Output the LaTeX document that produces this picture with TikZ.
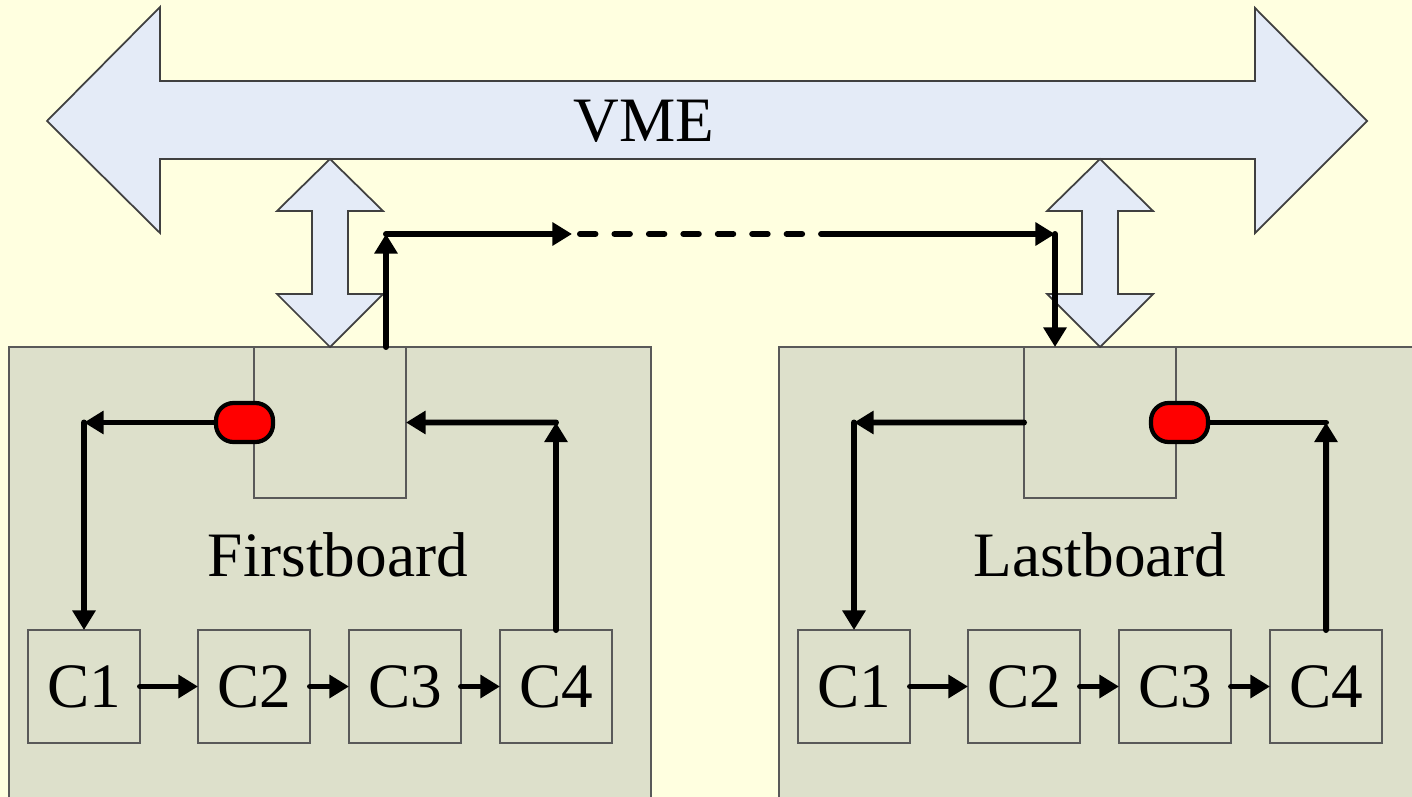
\documentclass[tikz,border=0pt]{standalone}
\usepackage{fontspec}
\setmainfont{Liberation Serif}
\usetikzlibrary{positioning,arrows.meta}
\definecolor{fondo}{HTML}{FFFFE0}
\definecolor{placa}{HTML}{DDE0CB}
\definecolor{bus}{HTML}{E4EBF7}

\begin{document}
\begin{tikzpicture}[
        board/.style={
            rectangle, 
            draw=black!65, 
            line width=0.5pt, 
            fill=placa, 
            anchor=north west, 
            minimum width=6.42cm, 
            minimum height=4.8cm, 
            inner sep=0pt, 
            outer sep=0pt
        },
        ctrl/.style={
            rectangle, 
            draw=black!65, 
            line width=0.5pt, 
            fill=placa, 
            anchor=north west, 
            minimum width=1.52cm, 
            minimum height=1.51cm, 
            inner sep=0pt, 
            outer sep=0pt
        },
        chip/.style={
            rectangle, 
            draw=black!65, 
            line width=0.5pt, 
            fill=placa, 
            minimum width=1.12cm, 
            minimum height=1.13cm, 
            inner sep=0pt, 
            outer sep=0pt, 
            font=\fontsize{18}{22}\selectfont
        },
        pill/.style={
            rectangle, 
            rounded corners=5pt, 
            draw=black, 
            line width=1.2pt, 
            fill=red, 
            minimum width=0.57cm, 
            minimum height=0.39cm, 
            inner sep=0pt
        },
        title/.style={font=\fontsize{18}{22}\selectfont, inner sep=0pt},
        busarrow/.style={draw=black!75, line width=0.5pt, fill=bus},
        arrow/.style={-{Triangle[length=5.6pt,width=6.4pt]}, line width=1.7pt, line cap=round},
        link/.style={line width=1.7pt, line cap=round}
    ]
    \clip (0,0) rectangle (14.12,-7.97);
    \fill[fondo] (0,0) rectangle (14.12,-7.97);

    % Placas
    \node[board] (boardA) at (0.09,-3.47) {};
    \node[board, minimum width=6.5cm] (boardB) at (7.79,-3.47) {};
    \node[ctrl] (ctrlA) at (2.54,-3.47) {};
    \node[ctrl] (ctrlB) at (10.24,-3.47) {};
    \node[pill] (pillA) at (2.445,-4.225) {};
    \node[pill] (pillB) at (11.795,-4.225) {};

    \node[chip] (C1a) at (0.84,-6.865) {C1};
    \node[chip, right=0.58cm of C1a] (C2a) {C2};
    \node[chip, right=0.39cm of C2a] (C3a) {C3};
    \node[chip, right=0.39cm of C3a] (C4a) {C4};
    \node[chip] (C1b) at (8.54,-6.865) {C1};
    \node[chip, right=0.58cm of C1b] (C2b) {C2};
    \node[chip, right=0.39cm of C2b] (C3b) {C3};
    \node[chip, right=0.39cm of C3b] (C4b) {C4};

    \node[title] (first) at (3.38,-5.55) {Firstboard};
    \node[title] (last) at (11.00,-5.55) {Lastboard};

    % Bus VME
    \draw[busarrow] (0.47,-1.21) -- (1.60,-0.07) -- (1.60,-0.81) -- (12.55,-0.81) -- (12.55,-0.08)
        -- (13.67,-1.21) -- (12.55,-2.33) -- (12.55,-1.59) -- (1.60,-1.59) -- (1.60,-2.33) -- cycle;
    \draw[busarrow] (3.30,-1.59) -- (3.83,-2.11) -- (3.48,-2.11) -- (3.48,-2.94) -- (3.83,-2.94)
        -- (3.30,-3.47) -- (2.77,-2.94) -- (3.12,-2.94) -- (3.12,-2.11) -- (2.77,-2.11) -- cycle;
    \draw[busarrow] (11.00,-1.59) -- (11.53,-2.11) -- (11.18,-2.11) -- (11.18,-2.94) -- (11.53,-2.94)
        -- (11.00,-3.47) -- (10.47,-2.94) -- (10.82,-2.94) -- (10.82,-2.11) -- (10.47,-2.11) -- cycle;
    \node[title] (vme) at (6.44,-1.215) {VME};

    % Puntos de paso
    \coordinate (kA1) at (0.84,-4.225);
    \coordinate (kA2) at (5.56,-4.225);
    \coordinate (kB1) at (8.54,-4.225);
    \coordinate (kB2) at (13.26,-4.225);
    \coordinate (outA) at (3.86,-3.47);
    \coordinate (upA) at (3.86,-2.34);
    \coordinate (dashA) at (5.72,-2.34);
    \coordinate (dashS) at (5.80,-2.34);
    \coordinate (dashB) at (8.22,-2.34);
    \coordinate (upB) at (10.55,-2.34);
    \coordinate (inB) at (10.55,-3.47);

    % Conexiones
    \draw[arrow] (pillA.west) -- (kA1);
    \draw[arrow] (kA1) -- (C1a.north);
    \draw[arrow] (C1a) -- (C2a);
    \draw[arrow] (C2a) -- (C3a);
    \draw[arrow] (C3a) -- (C4a);
    \draw[arrow] (C4a.north) -- (kA2);
    \draw[arrow] (kA2) -- (ctrlA.east);

    \draw[arrow] (ctrlB.west) -- (kB1);
    \draw[arrow] (kB1) -- (C1b.north);
    \draw[arrow] (C1b) -- (C2b);
    \draw[arrow] (C2b) -- (C3b);
    \draw[arrow] (C3b) -- (C4b);
    \draw[arrow] (C4b.north) -- (kB2);
    \draw[link] (pillB.east) -- (kB2);

    \draw[arrow] (outA) -- (upA);
    \draw[arrow] (upA) -- (dashA);
    \draw[link, dash pattern=on 4.4pt off 5.4pt] (dashS) -- (dashB);
    \draw[arrow] (dashB) -- (upB);
    \draw[arrow] (upB) -- (inB);
    \end{tikzpicture}
\end{document}
